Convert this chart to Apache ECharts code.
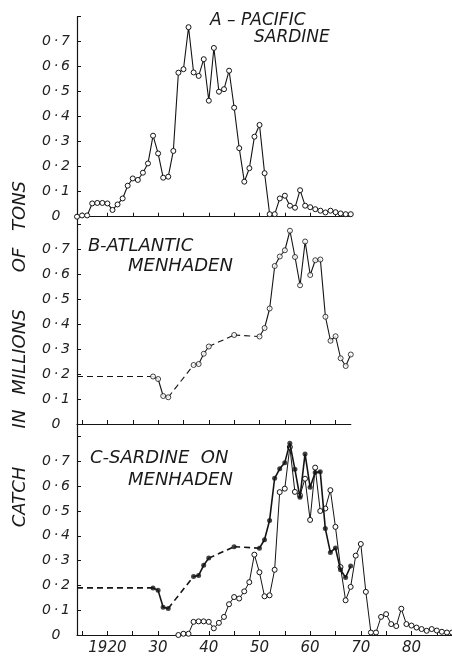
<!DOCTYPE html>
<html><head><meta charset="utf-8">
<script src="https://cdn.jsdelivr.net/npm/echarts@6/dist/echarts.min.js"></script>
<style>html,body{margin:0;padding:0;background:#fff}#c{width:452px;height:656px}</style>
</head><body><div id="c"></div>
<script>
// ---- data (catch in millions of tons) ----
const sardineYears = [1914,1915,1916,1917,1918,1919,1920,1921,1922,1923,1924,1925,1926,1927,1928,1929,1930,1931,1932,1933,1934,1935,1936,1937,1938,1939,1940,1941,1942,1943,1944,1945,1946,1947,1948,1949,1950,1951,1952,1953,1954,1955,1956,1957,1958,1959,1960,1961,1962,1963,1964,1965,1966,1967,1968];
const sardineCatch = [0.0,0.005,0.005,0.053,0.055,0.055,0.053,0.027,0.049,0.073,0.124,0.153,0.147,0.176,0.213,0.324,0.253,0.156,0.16,0.263,0.576,0.59,0.758,0.577,0.563,0.63,0.464,0.675,0.5,0.51,0.584,0.436,0.274,0.14,0.194,0.32,0.367,0.174,0.01,0.01,0.073,0.084,0.044,0.036,0.106,0.044,0.038,0.03,0.024,0.017,0.024,0.018,0.013,0.01,0.01];
const menhadenYears = [1914,1929,1930,1931,1932,1937,1938,1939,1940,1945,1950,1951,1952,1953,1954,1955,1956,1957,1958,1959,1960,1961,1962,1963,1964,1965,1966,1967,1968];
const menhadenCatch = [0.19,0.19,0.18,0.112,0.107,0.236,0.24,0.281,0.31,0.356,0.35,0.384,0.462,0.632,0.67,0.695,0.773,0.668,0.555,0.73,0.596,0.655,0.658,0.429,0.333,0.351,0.263,0.232,0.278];
const sardineLagYears = 20;          // panel C: sardine plotted 20 years later
const firstMenhadenMarkerYear = 1929; // earlier value only starts the dashed line
// ---- axis ticks / labels ----
const xTickYears = [1915,1920,1925,1930,1935,1940,1945,1950,1955,1960,1965,1970,1975,1980,1985];
const xLabelYears = [1920,1930,1940,1950,1960,1970,1980];
const xLabelTexts = ['1920','30','40','50','60','70','80'];
const yTickValues = [0,0.1,0.2,0.3,0.4,0.5,0.6,0.7,0.8];
const yLabelValues = [0,0.1,0.2,0.3,0.4,0.5,0.6,0.7];
const yLabelTexts = ['0','0\u2009·\u20091','0\u2009·\u20092','0\u2009·\u20093','0\u2009·\u20094','0\u2009·\u20095','0\u2009·\u20096','0\u2009·\u20097'];

const INK = '#141414';
const FONT = 'DejaVu Sans';
const chart = echarts.init(document.getElementById('c'), null, {renderer:'canvas'});

const L = 77, PX_PER_YEAR = 5.07, PX_PER_UNIT = 250;
const grids = [
  {left:L, top:16.7, width:(1968-1914)*PX_PER_YEAR, height:200},
  {left:L, top:216.7, width:(1968-1914)*PX_PER_YEAR, height:207.3},
  {left:L, top:424, width:(1988-1914)*PX_PER_YEAR, height:212.7}
];
const xMax = [1968, 1968, 1988];

function xAxis(gi){
  const max = xMax[gi];
  return {type:'value', gridIndex:gi, min:1914, max:max,
    axisLine:{show:true, onZero:false, lineStyle:{color:INK, width:1.2}},
    axisTick:{show:true, inside:true, length:4, customValues:xTickYears.filter(y=>y<max), lineStyle:{color:INK, width:1}},
    axisLabel:{show:gi===2, customValues:xLabelYears, formatter:v=>xLabelTexts[xLabelYears.indexOf(v)],
      fontFamily:FONT, fontStyle:'italic', fontSize:15, color:'#222', margin:6},
    splitLine:{show:false}};
}
function yAxis(gi){
  return {type:'value', gridIndex:gi, min:0, max:grids[gi].height/PX_PER_UNIT,
    axisLine:{show:true, onZero:false, lineStyle:{color:INK, width:1.2}},
    axisTick:{show:true, inside:true, length:4, customValues:yTickValues, lineStyle:{color:INK, width:1}},
    axisLabel:{customValues:yLabelValues, formatter:v=>yLabelTexts[Math.round(v*10)],
      fontFamily:FONT, fontStyle:'italic', fontSize:14, color:'#222', margin:21, align:'center',
      padding:[0,0,5,0]},
    splitLine:{show:false}};
}

const series = [];
const openSym = {color:'#fff', borderColor:INK, borderWidth:1};
function sardineSeries(gi, lag, width){
  series.push({type:'line', xAxisIndex:gi, yAxisIndex:gi, silent:true, animation:false, clip:false,
    data:sardineYears.map((y,i)=>[y+lag, sardineCatch[i]]),
    symbol:'circle', symbolSize:5, showAllSymbol:true, itemStyle:openSym,
    lineStyle:{color:INK, width:width}, z:3});
}
function menhadenSeries(gi, filled, width){
  // solid runs of consecutive years, dashed bridges across gaps
  let run = [[menhadenYears[0], menhadenCatch[0]]];
  const flush = () => { if (run.length > 1) series.push({type:'line', xAxisIndex:gi, yAxisIndex:gi, silent:true, animation:false, clip:false,
      data:run, symbol:'none', lineStyle:{color:INK, width:width}, z:4}); };
  for (let i=1;i<menhadenYears.length;i++){
    const p=[menhadenYears[i-1], menhadenCatch[i-1]], q=[menhadenYears[i], menhadenCatch[i]];
    if (q[0]-p[0] > 1){
      flush();
      series.push({type:'line', xAxisIndex:gi, yAxisIndex:gi, silent:true, animation:false, clip:false,
        data:[p,q], symbol:'none', lineStyle:{color:INK, width:width, type:[6,4]}, z:4});
      run=[q];
    } else run.push(q);
  }
  flush();
  series.push({type:'scatter', xAxisIndex:gi, yAxisIndex:gi, silent:true, animation:false, clip:false,
    data:menhadenYears.map((y,i)=>[y, menhadenCatch[i]]).filter(d=>d[0]>=firstMenhadenMarkerYear),
    symbol:'circle', symbolSize:5,
    itemStyle: filled ? {color:INK} : openSym, z:5});
}
sardineSeries(0, 0, 1.1);
menhadenSeries(1, false, 1.1);
sardineSeries(2, sardineLagYears, 1.0);
menhadenSeries(2, true, 1.6);

function txt(t, x, y, size, rot){
  return {type:'text', x:x, y:y, rotation:rot||0, silent:true,
    style:{text:t, fill:'#1a1a1a', font:'italic '+size+'px "'+FONT+'"',
      textAlign: rot ? 'center' : 'left', textVerticalAlign:'middle'}};
}
const graphic = [
  txt('A – PACIFIC', 210, 21, 17),
  txt('SARDINE', 254, 38, 17),
  txt('B-ATLANTIC', 88, 246, 18),
  txt('MENHADEN', 128, 266, 18),
  txt('C-SARDINE  ON', 90, 458, 18),
  txt('MENHADEN', 128, 480, 18),
  txt('CATCH', 20, 497, 18, Math.PI/2),
  txt('IN', 20, 419, 18, Math.PI/2),
  txt('MILLIONS', 20, 352, 18, Math.PI/2),
  txt('OF', 20, 260, 18, Math.PI/2),
  txt('TONS', 20, 206, 18, Math.PI/2)
];

chart.setOption({
  animation:false, backgroundColor:'#fff',
  grid:grids,
  xAxis:[xAxis(0), xAxis(1), xAxis(2)],
  yAxis:[yAxis(0), yAxis(1), yAxis(2)],
  series:series,
  graphic:graphic
});
</script></body></html>
